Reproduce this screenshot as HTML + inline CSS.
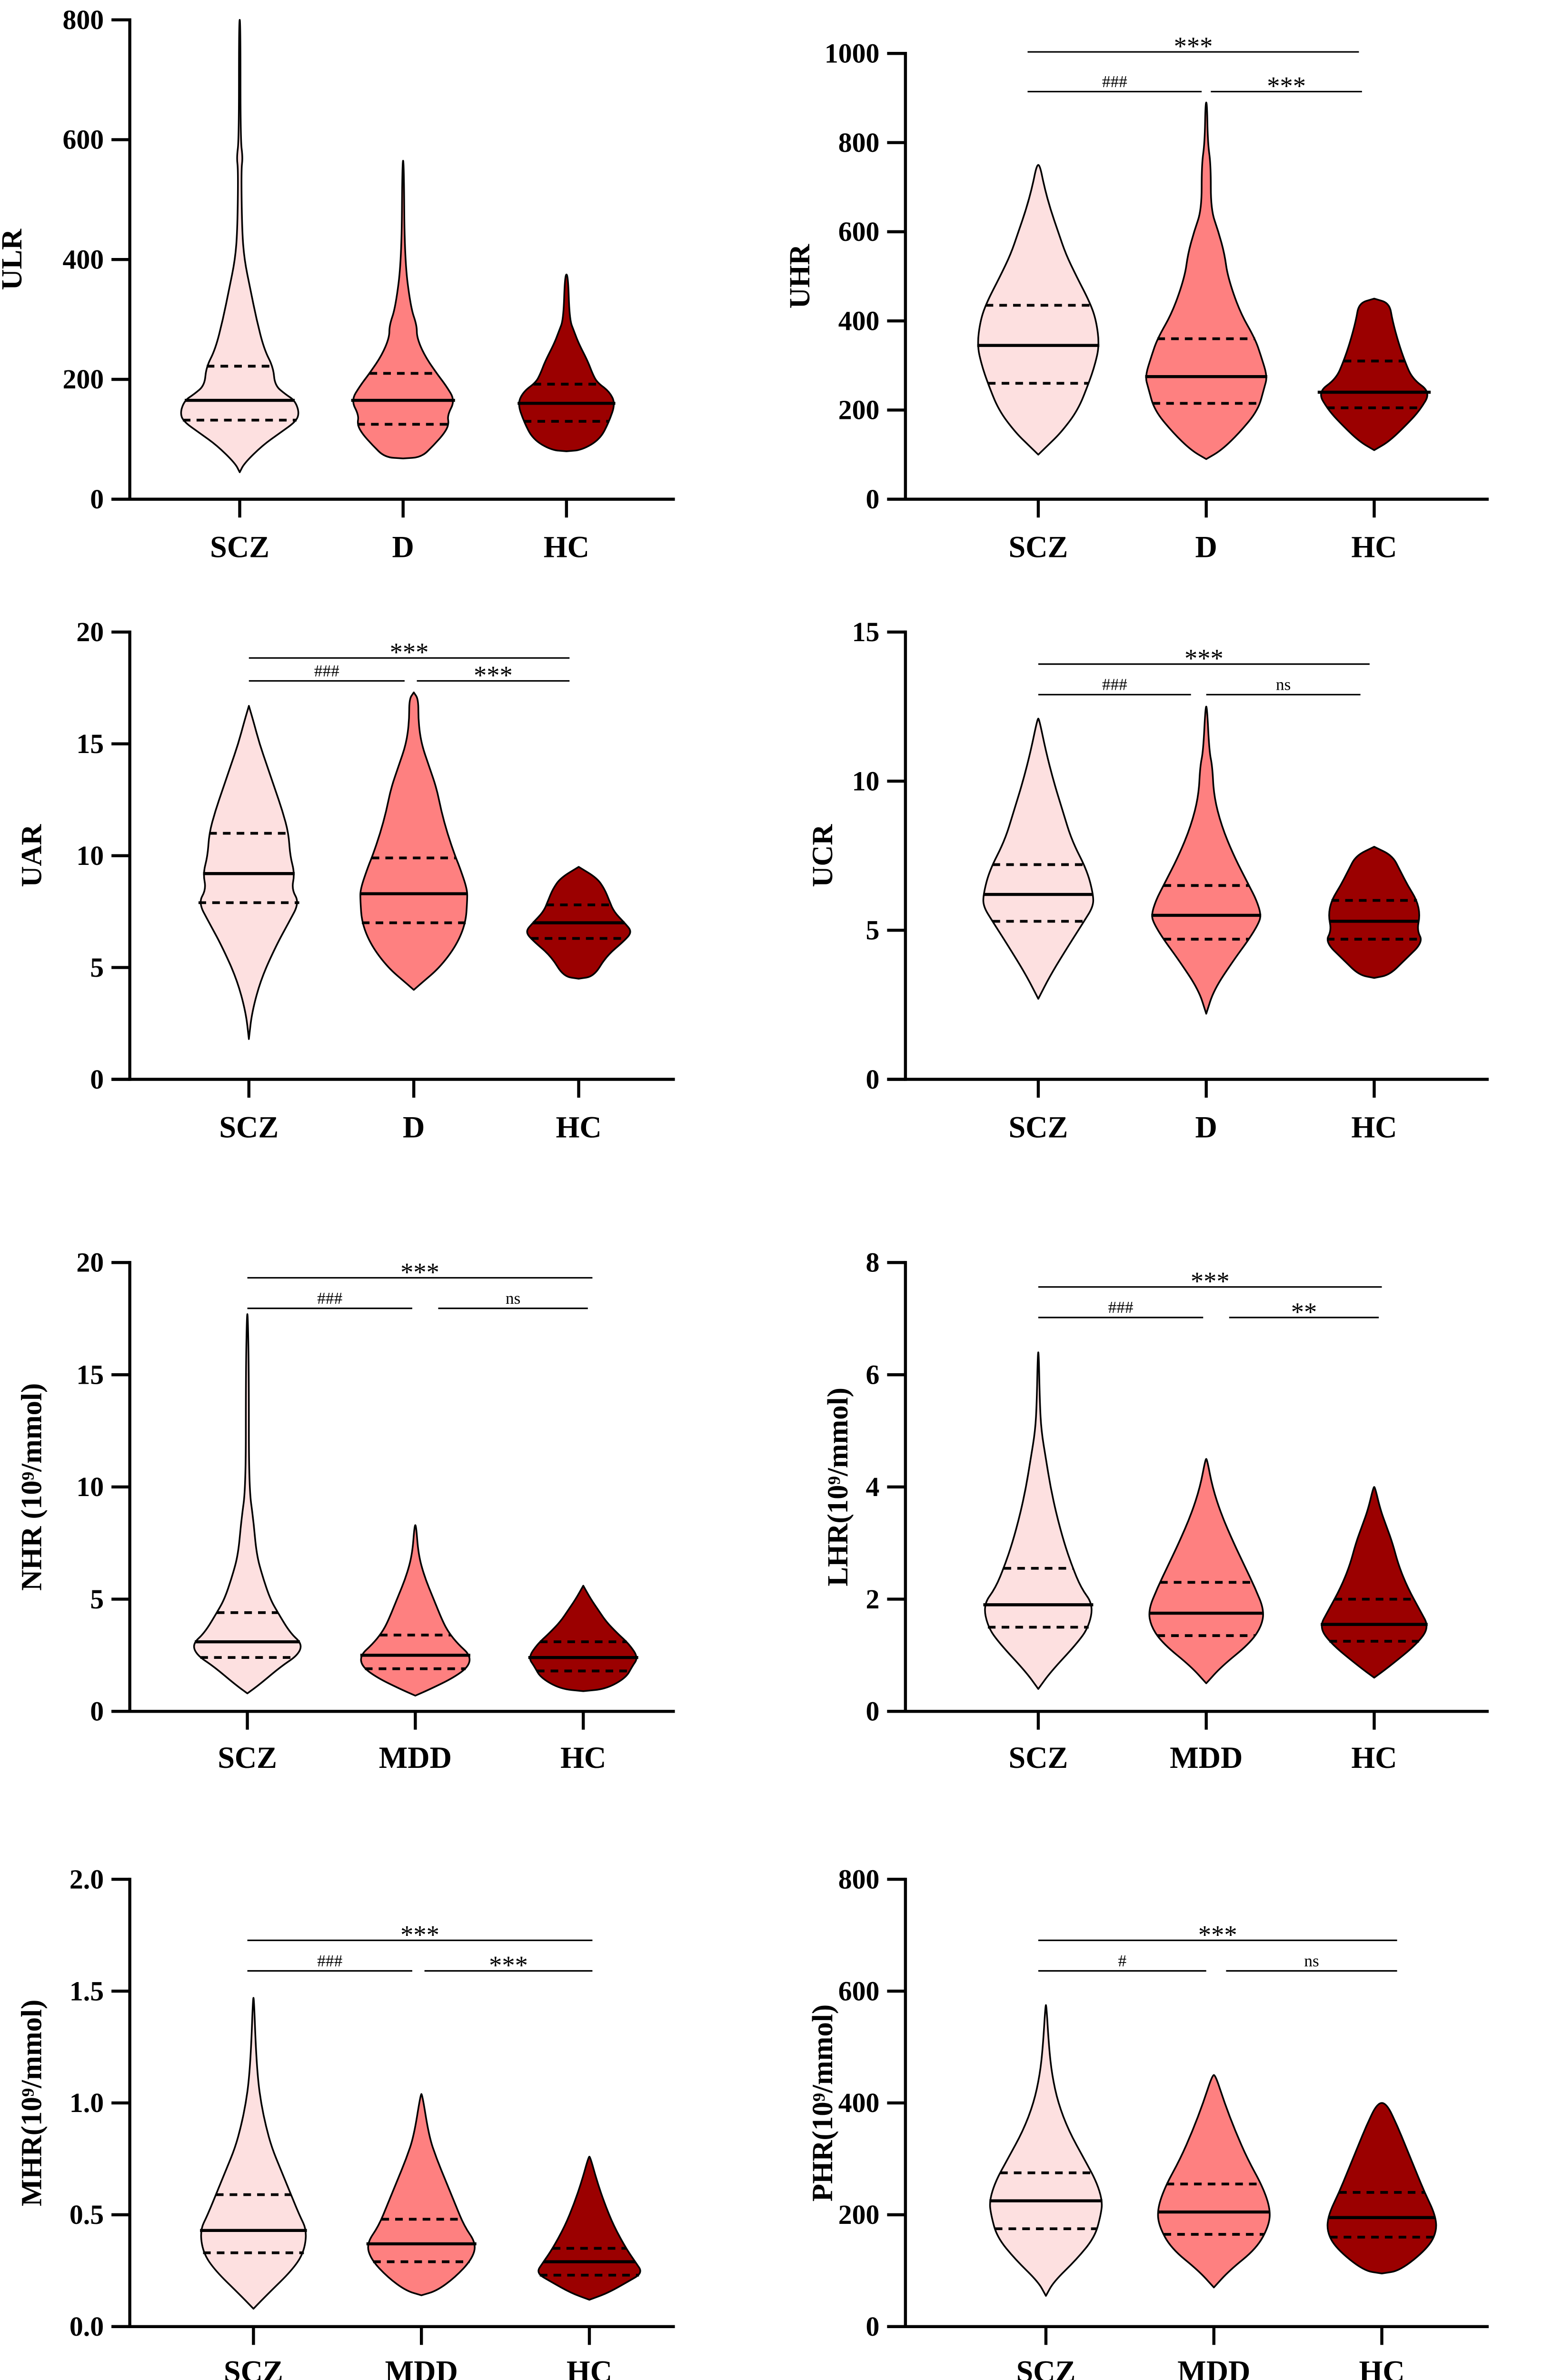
<!DOCTYPE html>
<html><head><meta charset="utf-8"><style>
html,body{margin:0;padding:0;background:#fff;overflow:hidden;width:3281px;height:5212px;}
svg{display:block;}
text{font-family:"Liberation Serif","Times New Roman",serif;fill:#000;}
</style></head><body>
<svg id="fig" width="3281" height="5212" viewBox="0 0 1023 1625" preserveAspectRatio="xMinYMin meet" xmlns="http://www.w3.org/2000/svg"></svg>
<script>
// ---------- data ----------
const panelTitles = ["ULR","UHR","UAR","UCR","NHR (10⁹/mmol)","LHR(10⁹/mmol)","MHR(10⁹/mmol)","PHR(10⁹/mmol)"];
const categoriesTop = ["SCZ","D","HC"];
const categoriesBottom = ["SCZ","MDD","HC"];
const yMaxes = [800,1000,20,15,20,8,2.0,800];
const yTickSteps = [200,200,5,5,5,2,0.5,200];
const tickDecimals = [0,0,0,0,0,0,1,0];
// per panel: [group] -> [q1, median, q3]
const quartiles = [
 [[132,165,222],[125,165,210],[130,160,192]],
 [[260,345,435],[215,275,360],[205,240,310]],
 [[7.9,9.2,11.0],[7.0,8.3,9.9],[6.3,7.0,7.8]],
 [[5.3,6.2,7.2],[4.7,5.5,6.5],[4.7,5.3,6.0]],
 [[2.4,3.1,4.4],[1.9,2.5,3.4],[1.8,2.4,3.1]],
 [[1.5,1.9,2.55],[1.35,1.75,2.3],[1.25,1.55,2.0]],
 [[0.33,0.43,0.59],[0.29,0.37,0.48],[0.23,0.29,0.35]],
 [[175,225,275],[165,205,255],[160,195,240]]
];
// density profiles: [value, relative density]
const densities = [
 [
  [[45,0],[60,3],[90,15],[110,26],[130,37],[145,39],[165,36],[175,30],[190,23],[220,22],[250,16],[300,11],[350,7],[400,3],[450,1.5],[550,1],[570,2],[600,0.5],[800,0.5]],
  [[68,0],[70,12],[90,20],[110,27],[125,30],[140,29],[165,34],[190,28],[210,22],[240,14],[270,9],[290,9],[320,5],[400,1],[565,0.5]],
  [[80,0],[82,10],[100,22],[130,28],[160,32],[180,28],[195,20],[210,17],[230,14],[260,8],[280,5],[300,2],[375,1]]
 ],
 [
  [[100,0],[120,6],[150,15],[200,26],[260,33],[300,37],[345,40],[400,38],[440,34],[500,25],[550,18],[600,13],[650,8],[700,4],[750,1]],
  [[90,0],[110,10],[150,22],[200,34],[250,38],[275,40],[320,36],[360,32],[420,22],[500,14],[550,12],[600,8],[650,3],[750,3],[800,1],[890,0.5]],
  [[110,0],[130,10],[170,22],[200,30],[240,37],[270,25],[310,20],[350,16],[400,12],[440,10],[450,0]]
 ],
 [
  [[1.8,0],[3,2],[4.5,8],[6,18],[7,26],[7.9,33],[8.5,28],[9.2,30],[10,27],[11,26],[12,22],[13,17],[14,12],[15,7],[16,3],[16.7,0]],
  [[4,0],[4.3,5],[5,17],[6,28],[7,34],[8,35],[8.5,35],[9.5,30],[10,27],[11,22],[12,18],[13,15],[14,10],[15,5],[16,3],[17,3],[17.3,0]],
  [[4.5,0],[4.6,10],[5.5,18],[6.2,30],[6.6,35],[7,30],[7.5,23],[8,20],[8.5,17],[9,12],[9.5,0]]
 ],
 [
  [[2.7,0],[3.5,8],[4.5,20],[5.3,30],[5.8,36],[6.2,36],[7,32],[8,22],[9,16],[10,10],[11,5],[12.1,0.5]],
  [[2.2,0],[3,5],[4,18],[4.7,28],[5.2,34],[5.5,36],[6,33],[6.5,28],[7.5,18],[8.5,10],[9.5,5],[10.5,4],[11,2],[12.5,0.5]],
  [[3.4,0],[3.5,10],[4,20],[4.6,32],[5,28],[5.5,30],[6,28],[6.5,22],[7,17],[7.5,12],[7.8,0]]
 ],
 [
  [[0.8,0],[1.2,8],[2,22],[2.5,33],[3,36],[3.5,28],[4.4,20],[5,15],[6,10],[7,6],[8.5,4],[10,1],[15,1],[17.7,0.3]],
  [[0.7,0],[1,10],[1.5,25],[2,35],[2.5,36],[3,28],[3.5,22],[4,18],[5,12],[6,6],[7,2],[8.3,0.5]],
  [[0.9,0],[1,15],[1.5,28],[2,32],[2.4,36],[3,30],[3.5,22],[4,15],[4.5,10],[5,5],[5.6,0]]
 ],
 [
  [[0.4,0],[0.7,8],[1.2,25],[1.5,33],[1.9,36],[2.2,28],[2.6,22],[3,17],[3.5,12],[4,8],[4.5,5],[5,2],[5.5,1],[6.4,0.3]],
  [[0.5,0],[0.8,10],[1.2,28],[1.5,36],[1.8,38],[2.2,32],[2.6,25],[3,18],[3.5,10],[4,4],[4.5,0.5]],
  [[0.6,0],[0.8,10],[1.2,28],[1.5,36],[1.8,30],[2.2,22],[2.6,16],[3,12],[3.3,8],[3.6,4],[4,0.5]]
 ],
 [
  [[0.08,0],[0.15,10],[0.25,25],[0.33,33],[0.43,35],[0.5,30],[0.6,24],[0.7,18],[0.8,12],[0.9,8],[1.0,5],[1.1,3],[1.25,1.5],[1.47,0.3]],
  [[0.14,0],[0.16,10],[0.22,22],[0.3,33],[0.37,36],[0.45,28],[0.55,22],[0.65,16],[0.75,10],[0.85,5],[1.04,0.5]],
  [[0.12,0],[0.15,12],[0.2,25],[0.24,35],[0.29,30],[0.35,24],[0.45,16],[0.55,10],[0.65,5],[0.76,0.5]]
 ],
 [
  [[55,0],[80,5],[120,20],[160,32],[200,36],[225,37],[260,33],[300,25],[350,15],[400,8],[450,4],[500,2],[575,0.3]],
  [[70,0],[100,10],[140,28],[180,36],[210,37],[250,32],[300,22],[350,14],[400,7],[450,1]],
  [[95,0],[100,12],[140,30],[170,36],[200,35],[240,28],[280,22],[320,16],[360,10],[400,3]]
 ]
];
// significance labels: [overall, SCZ-vs-D, D-vs-HC]
const sigLabels = [null,["***","###","***"],["***","###","***"],["***","###","ns"],["***","###","ns"],["***","###","**"],["***","###","***"],["***","#","ns"]];
const fills = ["#fde0e0","#fe8080","#9b0000"];

// ---------- layout ----------
const L = [
 {ax:85, x1:442, top:13, bot:327, cx:[157,264,371], xl:358, yt:14, br:null},
 {ax:593,x1:975, top:35, bot:327, cx:[680,790,900], xl:358, yt:530, br:[34,60,673,890,787,793,892]},
 {ax:85, x1:442, top:414,bot:707, cx:[163,271,379], xl:738, yt:27, br:[431,446,163,373,265,273,373]},
 {ax:593,x1:975, top:414,bot:707, cx:[680,790,900], xl:738, yt:545, br:[435,455,680,897,780,790,891]},
 {ax:85, x1:442, top:827,bot:1121,cx:[162,272,382], xl:1151,yt:27, br:[837,857,162,388,270,287,385]},
 {ax:593,x1:975, top:827,bot:1121,cx:[680,790,900], xl:1151,yt:555, br:[843,863,680,905,788,805,903]},
 {ax:85, x1:442, top:1231,bot:1524,cx:[166,276,386],xl:1553,yt:27, br:[1271,1291,162,388,270,278,388]},
 {ax:593,x1:975, top:1231,bot:1524,cx:[685,795,905],xl:1553,yt:545,br:[1271,1291,680,915,790,803,915]}
];
const NS="http://www.w3.org/2000/svg";
const svg=document.getElementById('fig');
const FF='"Liberation Serif","Times New Roman",serif';
function mk(tag,attrs,parent){const e=document.createElementNS(NS,tag);for(const k in attrs)e.setAttribute(k,attrs[k]);if(tag==='text')e.setAttribute('font-family',FF);(parent||svg).appendChild(e);return e;}

L.forEach((p,pi)=>{
 const g=mk('g',{});
 
 
 const ys=v=>p.bot-(v/yMaxes[pi])*(p.bot-p.top);
 const cats=pi<4?categoriesTop:categoriesBottom;
 densities[pi].forEach((prof,gi)=>{
  const cx=p.cx[gi];
  const right=prof.map(d=>[cx+d[1],ys(d[0])]);
  const left=prof.slice().reverse().map(d=>[cx-d[1],ys(d[0])]);
  const pts=right.concat(left);
  let dstr='M'+pts[0][0]+','+pts[0][1];
  for(let i=1;i<pts.length;i++){
   const a=pts[i-1],b=pts[i];
   dstr+=' Q'+a[0]+','+a[1]+' '+((a[0]+b[0])/2)+','+((a[1]+b[1])/2);
  }
  dstr+=' L'+pts[pts.length-1][0]+','+pts[pts.length-1][1]+'Z';
  const v=mk('path',{d:dstr,fill:fills[gi],stroke:'#000','stroke-width':1.1,'stroke-linejoin':'round'},g);
  
  
  const wAt=val=>{for(let i=1;i<prof.length;i++){if(val<=prof[i][0]){const a=prof[i-1],b=prof[i];const t=(val-a[0])/(b[0]-a[0]);return a[1]+t*(b[1]-a[1]);}}return 0;};
  quartiles[pi][gi].forEach((q,qi)=>{
   const w=wAt(q);
   const ln=mk('line',{x1:cx-w,x2:cx+w,y1:ys(q),y2:ys(q),stroke:'#000','stroke-width':qi===1?2:1.8},g);
   if(qi!==1)ln.setAttribute('stroke-dasharray','5,4');
   
   
  });
 });
 const ya=mk('line',{x1:p.ax,x2:p.ax,y1:p.top-1,y2:p.bot+1,stroke:'#000','stroke-width':2},g);
 
 
 const xa=mk('line',{x1:p.ax-12,x2:p.x1,y1:p.bot,y2:p.bot,stroke:'#000','stroke-width':2},g);
 
 
 for(let v=0;v<=yMaxes[pi]+1e-9;v+=yTickSteps[pi]){
  const y=ys(v);
  mk('line',{x1:p.ax-12,x2:p.ax,y1:y,y2:y,stroke:'#000','stroke-width':2},g);
  const t=mk('text',{x:p.ax-17,y:y+6,'text-anchor':'end','font-size':18,'font-weight':'bold'},g);
  t.textContent=v.toFixed(tickDecimals[pi]);
  
  
 }
 cats.forEach((c,gi)=>{
  mk('line',{x1:p.cx[gi],x2:p.cx[gi],y1:p.bot,y2:p.bot+12,stroke:'#000','stroke-width':2},g);
  const t=mk('text',{x:p.cx[gi],y:p.xl+7,'text-anchor':'middle','font-size':20,'font-weight':'bold'},g);
  t.textContent=c;
  
  
 });
 const ymid=(p.top+p.bot)/2;
 const yt=mk('text',{x:p.yt,y:ymid,'text-anchor':'middle','font-size':19,'font-weight':'bold',transform:'rotate(-90 '+p.yt+' '+ymid+')'},g);
 yt.textContent=panelTitles[pi];
 
 
 if(p.br){
  const b=p.br, s=sigLabels[pi];
  const segs=[[b[0],b[2],b[3],s[0]],[b[1],b[2],b[4],s[1]],[b[1],b[5],b[6],s[2]]];
  segs.forEach((sg)=>{
   mk('line',{x1:sg[1],x2:sg[2],y1:sg[0],y2:sg[0],stroke:'#000','stroke-width':1},g);
   const star=sg[3].indexOf('*')>=0;
   const t=mk('text',{x:(sg[1]+sg[2])/2,y:sg[0]-(star?-2:3),'text-anchor':'middle','font-size':star?17:11},g);
   t.textContent=sg[3];
   
   
  });
 }
});
</script>
</body></html>
